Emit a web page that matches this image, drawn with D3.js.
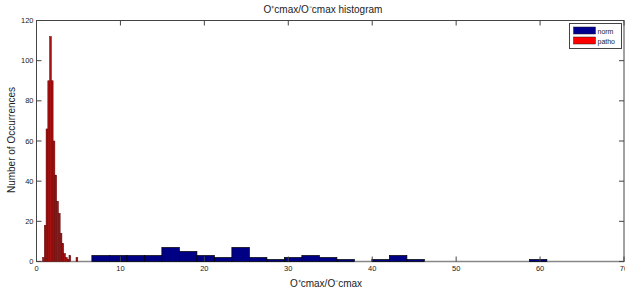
<!DOCTYPE html>
<html>
<head>
<meta charset="utf-8">
<script src="https://cdn.jsdelivr.net/npm/d3@7"></script>
<style>
body { margin: 0; background: #fff; }
text { font-family: "Liberation Sans", Arial, sans-serif; fill: #222; }
</style>
</head>
<body>
<script>
// ----------------------------------- DATA --------------------------------------------
// nom bins (centres) and counts
var nomCenters = [7.64, 9.73, 11.81, 13.90, 15.98, 18.07, 20.15, 22.24, 24.32, 26.41,
                  28.49, 30.58, 32.66, 34.75, 36.83, 38.92, 41.00, 43.09, 45.17, 47.26,
                  49.34, 51.43, 53.51, 55.60, 57.68, 59.77]
var nomCounts = [3, 3, 3, 3, 7, 5, 3, 2, 7, 2,
                 1, 2, 3, 2, 1, 0, 1, 3, 1, 0,
                 0, 0, 0, 0, 0, 1]
var nomWidth = 2.085

// patho bins (centres) and counts
var pathoCenters = [0.825, 1.035, 1.245, 1.455, 1.665, 1.875, 2.085, 2.295, 2.505, 2.715,
                    2.925, 3.135, 3.345, 3.555, 3.765, 3.975, 4.185, 4.395, 4.605, 4.815]
var pathoCounts = [2, 18, 66, 90, 112, 90, 60, 43, 30, 24,
                   14, 9, 4, 2, 1, 3, 0, 0, 0, 2]
var pathoWidth = 0.21

var xTicks = [0, 10, 20, 30, 40, 50, 60, 70]
var yTicks = [0, 20, 40, 60, 80, 100, 120]
var seriesNames = ['norm', 'patho']
var seriesColors = ['#000090', '#ff0000']

// ----------------------------------- SVG and SCALES --------------------------------------------
var width = 625
var height = 293
var plotLeft = 36.5, plotRight = 624, plotTop = 20.5, plotBottom = 261.5

var svg = d3.select('body')
			.append('svg')
			.attr('width', width)
			.attr('height', height)

svg.append('rect')
	.attr('width', '100%')
	.attr('height', '100%')
	.attr('fill', '#fff')

var x = d3.scaleLinear().domain([0, 70]).range([plotLeft, plotRight])
var y = d3.scaleLinear().domain([0, 120]).range([plotBottom, plotTop])

// ----------------------------------- AXES (frame + baseline) --------------------------------------------
svg.append('rect')
	.attr('x', plotLeft)
	.attr('y', plotTop)
	.attr('width', plotRight - plotLeft)
	.attr('height', plotBottom - plotTop)
	.attr('fill', 'none')
	.attr('stroke', '#444')
	.attr('stroke-width', 1)

svg.append('line')
	.attr('x1', plotLeft).attr('x2', plotRight)
	.attr('y1', plotBottom).attr('y2', plotBottom)
	.attr('stroke', '#888')
	.attr('stroke-width', 1.5)

// ----------------------------------- BARS --------------------------------------------
var nom = nomCenters.map(function(c, i){ return {c: c, n: nomCounts[i]} })
var patho = pathoCenters.map(function(c, i){ return {c: c, n: pathoCounts[i]} })

svg.append('g')
	.selectAll('rect')
	.data(nom.filter(function(d){ return d.n > 0 }))
	.enter()
	.append('rect')
	.attr('x', function(d){ return x(d.c - nomWidth / 2) })
	.attr('width', function(d){ return x(nomWidth) - x(0) })
	.attr('y', function(d){ return y(d.n) })
	.attr('height', function(d){ return y(0) - y(d.n) })
	.attr('fill', '#000084')
	.attr('stroke', '#000')
	.attr('stroke-width', 0.7)

svg.append('g')
	.selectAll('rect')
	.data(patho.filter(function(d){ return d.n > 0 }))
	.enter()
	.append('rect')
	.attr('x', function(d){ return x(d.c - pathoWidth / 2) })
	.attr('width', function(d){ return x(pathoWidth) - x(0) })
	.attr('y', function(d){ return y(d.n) })
	.attr('height', function(d){ return y(0) - y(d.n) })
	.attr('fill', '#a41212')
	.attr('stroke', '#5a0606')
	.attr('stroke-width', 0.5)

// ----------------------------------- TICKS --------------------------------------------
var tickLen = 5

var xt = svg.append('g').selectAll('g').data(xTicks).enter().append('g')
xt.append('line')
	.attr('x1', function(d){ return x(d) }).attr('x2', function(d){ return x(d) })
	.attr('y1', plotBottom).attr('y2', plotBottom - tickLen)
	.attr('stroke', '#444')
xt.append('line')
	.attr('x1', function(d){ return x(d) }).attr('x2', function(d){ return x(d) })
	.attr('y1', plotTop).attr('y2', plotTop + tickLen)
	.attr('stroke', '#444')
xt.append('text')
	.attr('x', function(d){ return x(d) })
	.attr('y', 271)
	.attr('text-anchor', 'middle')
	.style('font-size', '7.5px')
	.text(function(d){ return d })

var yt = svg.append('g').selectAll('g').data(yTicks).enter().append('g')
yt.append('line')
	.attr('x1', plotLeft).attr('x2', plotLeft + tickLen)
	.attr('y1', function(d){ return y(d) }).attr('y2', function(d){ return y(d) })
	.attr('stroke', '#444')
yt.append('line')
	.attr('x1', plotRight).attr('x2', plotRight - tickLen)
	.attr('y1', function(d){ return y(d) }).attr('y2', function(d){ return y(d) })
	.attr('stroke', '#444')
yt.append('text')
	.attr('x', plotLeft - 3)
	.attr('y', function(d){ return y(d) + 2.5 })
	.attr('text-anchor', 'end')
	.style('font-size', '7.5px')
	.text(function(d){ return d })

// ----------------------------------- LABELS --------------------------------------------
svg.append('text')
	.attr('x', 323)
	.attr('y', 13)
	.attr('text-anchor', 'middle')
	.style('font-size', '10px')
	.text('O\u207Acmax/O\u207Bcmax histogram')

svg.append('text')
	.attr('x', 326)
	.attr('y', 287)
	.attr('text-anchor', 'middle')
	.style('font-size', '10px')
	.text('O\u207Acmax/O\u207Bcmax')

svg.append('text')
	.attr('transform', 'translate(15,140) rotate(-90)')
	.attr('text-anchor', 'middle')
	.style('font-size', '10px')
	.text('Number of Occurrences')

// ----------------------------------- LEGEND --------------------------------------------
var legend = svg.append('g').attr('transform', 'translate(569.5,23.5)')

legend.append('rect')
	.attr('width', 52)
	.attr('height', 25)
	.attr('fill', '#fff')
	.attr('stroke', '#444')

var items = legend.selectAll('g.item')
	.data(seriesNames)
	.enter()
	.append('g')
	.attr('transform', function(d, i){ return 'translate(4,' + (3.5 + i * 10) + ')' })

items.append('rect')
	.attr('width', 22)
	.attr('height', 7)
	.attr('fill', function(d, i){ return seriesColors[i] })
	.attr('stroke', '#222')
	.attr('stroke-width', 0.5)

items.append('text')
	.attr('x', 24)
	.attr('y', 6.5)
	.style('font-size', '7px')
	.text(function(d){ return d })
</script>
</body>
</html>
